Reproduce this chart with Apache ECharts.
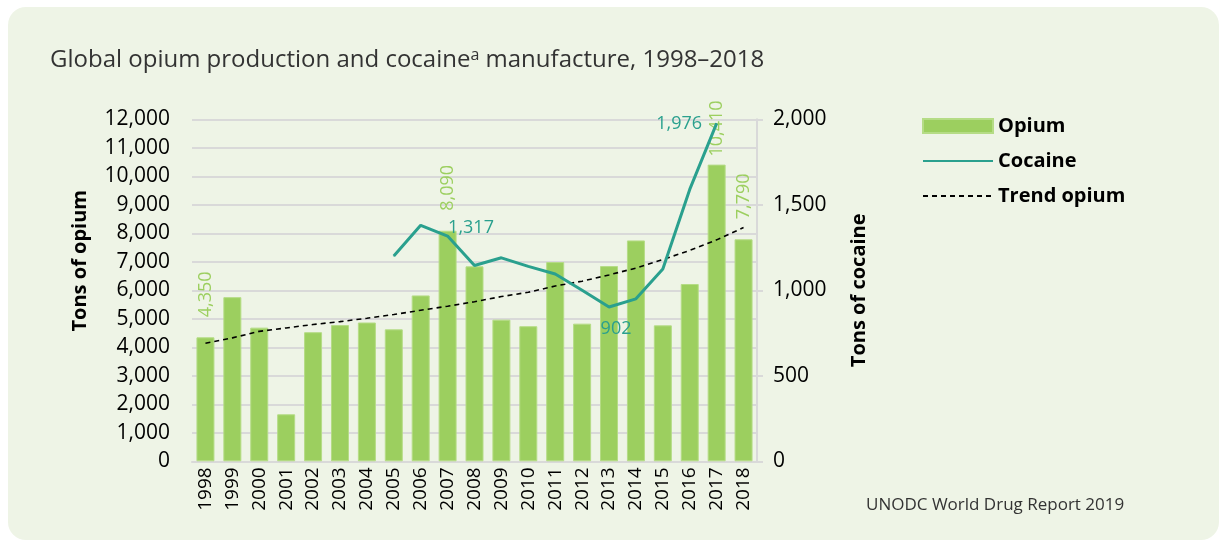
<!DOCTYPE html>
<html>
<head>
<meta charset="utf-8">
<script src="https://cdn.jsdelivr.net/npm/echarts@6/dist/echarts.min.js"></script>
<style>
  html, body { margin: 0; padding: 0; background: #fff; }
  #box {
    position: absolute; left: 8px; top: 7px; width: 1211px; height: 533px;
    background: #eef4e6; border-radius: 18px;
  }
  #chart { position: absolute; left: 0; top: 0; width: 1227px; height: 546px; }
</style>
</head>
<body>
<div id="box"></div>
<div id="chart"></div>
<script>
// data
var years = ['1998','1999','2000','2001','2002','2003','2004','2005','2006','2007',
             '2008','2009','2010','2011','2012','2013','2014','2015','2016','2017','2018'];
var opium = [4350, 5760, 4690, 1650, 4530, 4780, 4870, 4630, 5820, 8090,
             6840, 4970, 4740, 6990, 4830, 6850, 7750, 4770, 6220, 10410, 7790];
var cocaine = [null, null, null, null, null, null, null, 1200, 1380, 1317,
               1145, 1190, 1140, 1095, 1000, 902, 950, 1125, 1590, 1976, null];
var trendOpium = [4140, 4330, 4560, 4680, 4800, 4900, 5020, 5150, 5300, 5440,
                  5600, 5780, 5930, 6150, 6320, 6540, 6780, 7080, 7400, 7770, 8200];
var opiumLabelled = {'1998': 20, '2007': 20, '2017': 8, '2018': 20};
var cocaineLabelled = {'2007': 'right', '2013': 'bottom', '2017': 'left'};

var GREEN = '#9ccf5f';
var TEAL = '#2aa08e';
var FONT = '"Open Sans", "Noto Sans", sans-serif';

var myChart = echarts.init(document.getElementById('chart'));

var opiumData = opium.map(function (v, i) {
    var d = {value: v};
    if (opiumLabelled[years[i]] !== undefined) {
        d.label = {show: true, distance: opiumLabelled[years[i]]};
    }
    return d;
});

var cocaineData = cocaine.map(function (v, i) {
    var pos = cocaineLabelled[years[i]];
    var d = {value: v};
    if (pos) {
        d.label = {show: true, position: pos};
        if (pos === 'right') { d.label.offset = [0, -8]; d.label.distance = 0; }
        if (pos === 'left') { d.label.distance = 14; }
        if (pos === 'bottom') { d.label.distance = 12; d.label.offset = [7, 0]; }
    }
    return d;
});

var option = {
    animation: false,
    backgroundColor: 'transparent',
    textStyle: {fontFamily: FONT},
    title: {
        text: 'Global opium production and cocaine{sup|a} manufacture, 1998–2018',
        left: 45,
        top: 42,
        textStyle: {
            fontFamily: FONT, fontSize: 24, fontWeight: 'normal', color: '#333',
            rich: {
                sup: {fontSize: 16, color: '#333', fontFamily: FONT, verticalAlign: 'top', padding: [0, 0, 10, 0]}
            }
        }
    },
    legend: {
        orient: 'vertical',
        left: 922,
        top: 116,
        padding: 0,
        itemWidth: 70,
        itemHeight: 14,
        itemGap: 15,
        selectedMode: false,
        textStyle: {fontFamily: FONT, fontSize: 20, fontWeight: 'bold', color: '#000', padding: [0, 0, 0, 0]},
        data: [
            {name: 'Opium', icon: 'rect'},
            {name: 'Cocaine', itemStyle: {opacity: 0}},
            {name: 'Trend opium', itemStyle: {opacity: 0}}
        ]
    },
    grid: {left: 192, right: 470, top: 119.3, bottom: 84.7},
    xAxis: [{
        type: 'category',
        data: years,
        axisLine: {lineStyle: {color: '#d9d9d9', width: 2}},
        axisTick: {show: false},
        axisLabel: {rotate: 90, fontSize: 19, color: '#000', fontFamily: FONT, margin: 6}
    }],
    yAxis: [{
        type: 'value',
        min: 0, max: 12000, interval: 1000,
        axisLine: {show: false},
        axisTick: {show: false},
        splitLine: {lineStyle: {color: '#d9d9d9', width: 2}},
        axisLabel: {
            fontSize: 21, color: '#000', fontFamily: FONT, margin: 22,
            formatter: function (v) { return v.toLocaleString('en-US'); }
        }
    }, {
        type: 'value',
        min: 0, max: 2000, interval: 500,
        position: 'right',
        name: 'Tons of cocaine',
        nameLocation: 'middle',
        nameGap: 92,
        nameRotate: 90,
        nameTextStyle: {fontFamily: FONT, fontSize: 20, fontWeight: 'bold', color: '#000'},
        axisLine: {show: true, lineStyle: {color: '#d9d9d9', width: 2}},
        axisTick: {show: true, length: 6, lineStyle: {color: '#d9d9d9', width: 2}},
        splitLine: {show: false},
        axisLabel: {
            fontSize: 21, color: '#000', fontFamily: FONT, margin: 16,
            formatter: function (v) { return v.toLocaleString('en-US'); }
        }
    }],
    graphic: [{
        type: 'text',
        left: 70,
        top: 190,
        rotation: Math.PI / 2,
        style: {text: 'Tons of opium', font: 'bold 20px ' + FONT, fill: '#000'}
    }, {
        type: 'text',
        left: 866,
        top: 497,
        style: {text: 'UNODC World Drug Report 2019', font: '17px ' + FONT, fill: '#333'}
    }],
    series: [{
        name: 'Opium',
        type: 'bar',
        barWidth: 18,
        itemStyle: {color: GREEN, borderColor: '#b5dc86', borderWidth: 1},
        label: {
            show: false,
            position: 'top',
            rotate: 90,
            align: 'left',
            verticalAlign: 'middle',
            color: GREEN,
            fontSize: 18,
            fontFamily: FONT,
            formatter: function (p) { return p.value.toLocaleString('en-US'); }
        },
        data: opiumData,
        z: 1
    }, {
        name: 'Cocaine',
        type: 'line',
        yAxisIndex: 1,
        symbol: 'circle',
        symbolSize: 1,
        showSymbol: true,
        connectNulls: false,
        lineStyle: {color: TEAL, width: 3},
        itemStyle: {color: TEAL},
        label: {
            show: false,
            color: TEAL,
            fontSize: 18,
            fontFamily: FONT,
            formatter: function (p) { return p.value.toLocaleString('en-US'); }
        },
        data: cocaineData,
        z: 3
    }, {
        name: 'Trend opium',
        type: 'line',
        symbol: 'none',
        lineStyle: {color: '#000', width: 1.6, type: [5, 4]},
        itemStyle: {color: '#000'},
        data: trendOpium,
        z: 2
    }]
};

myChart.setOption(option);
</script>
</body>
</html>
